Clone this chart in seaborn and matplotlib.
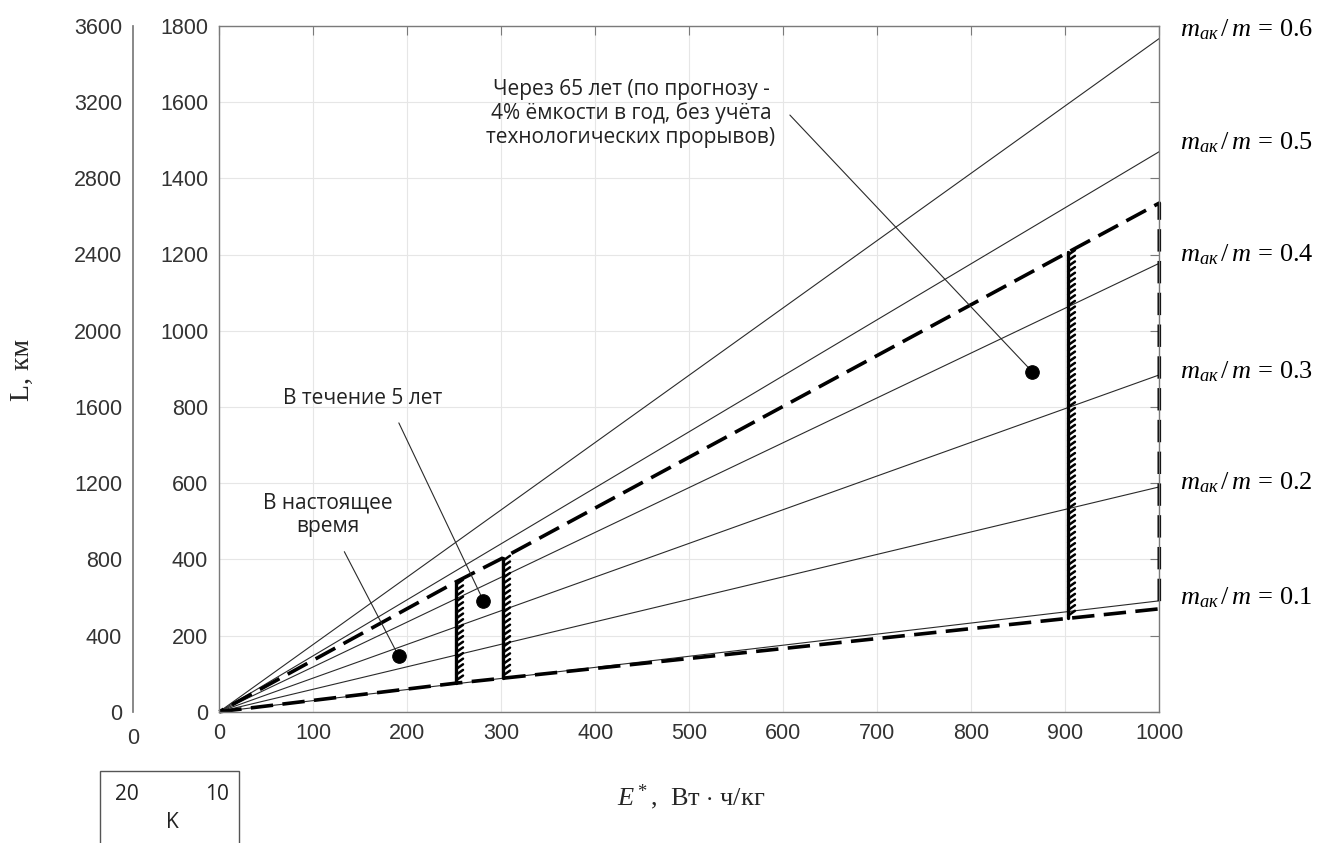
import matplotlib
matplotlib.use("Agg")
import matplotlib.pyplot as plt
import matplotlib.patheffects as pe
from matplotlib.patches import Rectangle
import pandas as pd
import seaborn as sns

# --- data ---
ratios = [0.1, 0.2, 0.3, 0.4, 0.5, 0.6]
E_range = [0, 1000]
L_at_1000 = [291, 590, 884, 1177, 1470, 1767]       # L of each m_ак/m line at E* = 1000
label_y = [298, 600, 892, 1199, 1493, 1789]          # where the right-hand labels sit

# boundary of the reachable region (thick dashed), lower edge -> right edge -> upper edge
bound_E = [0, 252, 302, 903, 1000, 1000, 903, 302, 252, 0]
bound_L = [0, 75, 88, 245, 270, 1335, 1206, 404, 341, 0]

# hatched vertical limits
hatch_E = [252, 302, 903]
hatch_lo = [75, 88, 245]
hatch_hi = [341, 404, 1206]

# state-of-the-art points
pts_E = [191, 281, 865]
pts_L = [145, 291, 892]
pt_text = ["В настоящее\nвремя", "В течение 5 лет",
           "Через 65 лет (по прогнозу -\n4% ёмкости в год, без учёта\nтехнологических прорывов)"]
text_pos = [(115, 516), (152, 823), (438, 1571)]
leader_start = [(133, 420), (191, 758), (607, 1566)]

y_ticks = list(range(0, 1801, 200))
y2_ticks = list(range(0, 3601, 400))
x_ticks = list(range(0, 1001, 100))

sns.set_theme(style="white")
plt.rcParams["font.family"] = ["Liberation Sans", "DejaVu Sans"]
plt.rcParams["mathtext.fontset"] = "custom"
plt.rcParams["mathtext.rm"] = "Liberation Serif"
plt.rcParams["mathtext.it"] = "Liberation Serif:italic"

W, H = 1320, 843
fig = plt.figure(figsize=(W / 100, H / 100), dpi=100)
fig.patch.set_facecolor("white")

x0, x1, y0, y1 = 219.3, 1159.3, 711.7, 25.9
ax = fig.add_axes([x0 / W, 1 - y0 / H, (x1 - x0) / W, (y0 - y1) / H])

spine_c = "#7a7a7a"
lab_c = "#333333"
thin_c = "#2a2a2a"
tick_fs = 15.5

# family of straight lines
for r, lend in zip(ratios, L_at_1000):
    sns.lineplot(x=E_range, y=[0, lend], ax=ax, color=thin_c, lw=0.8,
                 estimator=None, sort=False, legend=False)

# dashed boundary
sns.lineplot(x=bound_E, y=bound_L, ax=ax, color="black", lw=2.6,
             estimator=None, sort=False, legend=False)
ax.lines[-1].set_linestyle((0, (6.2, 2.6)))
ax.lines[-1].set_clip_on(False)

# hatched verticals
for e, lo, hi in zip(hatch_E, hatch_lo, hatch_hi):
    df = pd.DataFrame({"E": [e, e], "L": [lo, hi]})
    sns.lineplot(data=df, x="E", y="L", ax=ax, color="black", lw=2.4,
                 estimator=None, sort=False, legend=False)
    sns.lineplot(data=df, x="E", y="L", ax=ax, color="black", lw=1.4,
                 estimator=None, sort=False, legend=False)
    ax.lines[-1].set_path_effects([pe.withTickedStroke(spacing=4.0, angle=-55,
                                                       length=1.5, linewidth=1.8)])

# points
sns.scatterplot(x=pts_E, y=pts_L, ax=ax, color="black", s=95, edgecolor="black", zorder=5)

# callouts
for txt, (tx, ty), (sx, sy), px, py in zip(pt_text, text_pos, leader_start, pts_E, pts_L):
    ax.annotate("", xy=(px, py), xytext=(sx, sy),
                arrowprops=dict(arrowstyle="-", color=thin_c, lw=0.8, shrinkA=0, shrinkB=0))
    ax.text(tx, ty, txt, ha="center", va="center", fontsize=15, color="#222222",
            family=["Open Sans", "DejaVu Sans"], linespacing=1.15)

# right-hand labels
for r, ly in zip(ratios, label_y):
    ax.text(1022, ly, r"$m_{ак}\,/\,m\,=\,%.1f$" % r, ha="left", va="center",
            fontsize=19, color="black", clip_on=False)

ax.set_xlim(0, 1000)
ax.set_ylim(0, 1800)
ax.set_xticks(x_ticks)
ax.set_yticks(y_ticks)
ax.grid(True, color="#e6e6e6", lw=0.8)
ax.set_axisbelow(True)
for s in ax.spines.values():
    s.set_color(spine_c)
    s.set_linewidth(1.0)
ax.tick_params(direction="in", length=6.5, width=0.8, color=spine_c, labelcolor=lab_c,
               labelsize=tick_fs, top=True, right=True, pad=8)
ax.set_xlabel("")
ax.set_ylabel("")

# second (outer) L axis
ax2 = fig.add_axes([133.3 / W, 1 - y0 / H, 0.0005, (y0 - y1) / H])
ax2.set_ylim(0, 3600)
ax2.set_xlim(0, 1)
ax2.set_yticks(y2_ticks)
ax2.set_xticks([0])
ax2.set_xticklabels(["0"])
for k in ["right", "top", "bottom"]:
    ax2.spines[k].set_visible(False)
ax2.spines["left"].set_color(spine_c)
ax2.patch.set_alpha(0)
ax2.tick_params(axis="y", direction="in", length=6.5, width=0.8, color=spine_c,
                labelcolor=lab_c, labelsize=tick_fs, pad=8)
ax2.tick_params(axis="x", length=0, labelcolor=lab_c, labelsize=tick_fs, pad=12)

# axis titles
fig.text(22 / W, 1 - 370 / H, "L, км", rotation=90, ha="center", va="center",
         fontsize=20, family="Liberation Serif")
fig.text(691 / W, 1 - 797 / H, r"$E^*$,  Вт $\cdot$ ч/кг", ha="center", va="center",
         fontsize=19, family="Liberation Serif")

# small box bottom-left
fig.patches.append(Rectangle((99.5 / W, -0.05), 139.5 / W, 0.05 + 1 - 771 / H,
                             transform=fig.transFigure, fill=False, ec="#555555", lw=1.0))
for t, (tx, ty) in zip(["20", "10", "K"], [(126.7, 795), (216.7, 795), (172.3, 823)]):
    fig.text(tx / W, 1 - ty / H, t, ha="center", va="center", fontsize=15,
             family=["Open Sans", "DejaVu Sans"], color="#222222")

fig.savefig("out.png", dpi=100, facecolor="white")
